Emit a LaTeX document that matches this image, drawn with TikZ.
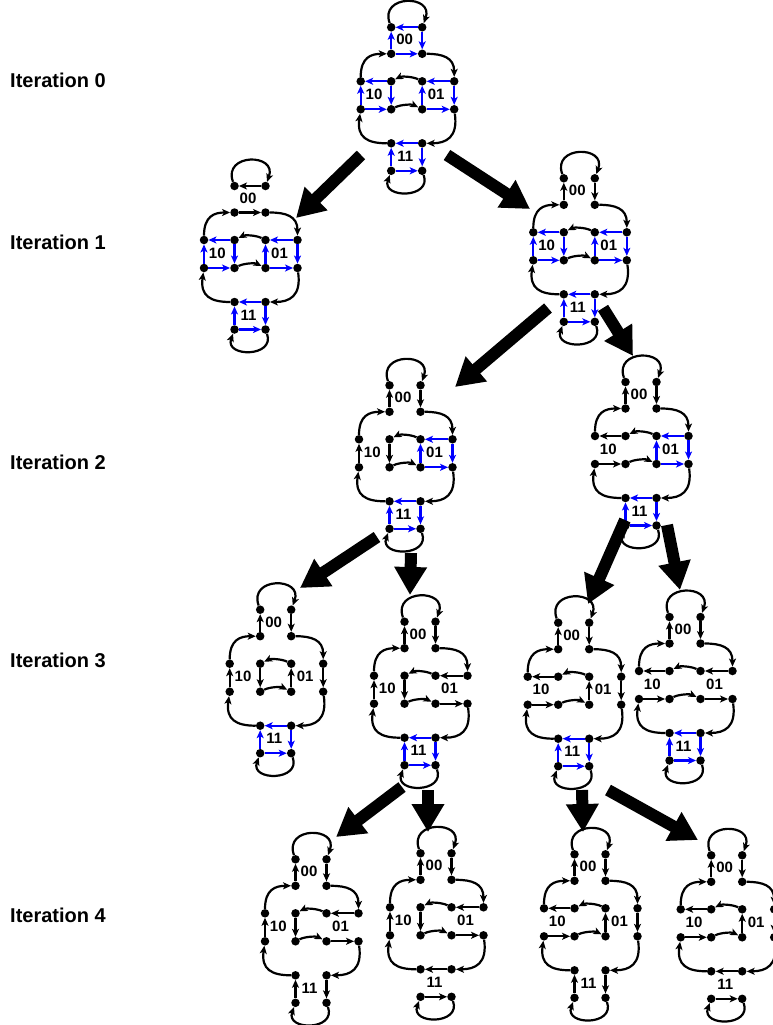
\documentclass[tikz,border=0pt]{standalone}
\usepackage{fontspec}
\setmainfont{Liberation Sans}
\usetikzlibrary{arrows.meta}
\definecolor{eblue}{RGB}{0,0,255}
\tikzset{
 dot/.style={circle,fill=black,inner sep=0pt,minimum size=8.5pt},
 bk/.style={draw=black,line width=2.2pt,-{Stealth[length=8pt,width=7pt,inset=2pt]}},
 bl/.style={draw=eblue,line width=2.2pt,-{Stealth[length=8pt,width=7pt,inset=2pt]}},
 lab/.style={font=\bfseries\fontsize{15}{16}\selectfont,inner sep=0pt},
 itlab/.style={font=\bfseries\fontsize{20}{22}\selectfont,anchor=west,inner sep=0pt},
 bigarrow/.style={line width=12pt,-{Triangle[length=28pt,width=31pt]}},
}
\newcommand\sqB[4]{\draw[bl] (#2)--(#1); \draw[bl] (#3)--(#1); \draw[bl] (#3)--(#4); \draw[bl] (#2)--(#4);}
\newcommand\sqV[4]{\draw[bk] (#3)--(#1); \draw[bk] (#2)--(#4);}
\newcommand\sqH[4]{\draw[bk] (#2)--(#1); \draw[bk] (#3)--(#4);}
\newcommand\mygraph[7]{%
\begin{scope}[shift={(#2,#3)}]
\node[dot] (#1A) at (30.5,0) {};
\node[dot] (#1B) at (61.5,0) {};
\node[dot] (#1C) at (30.5,26.5) {};
\node[dot] (#1D) at (61.5,26.5) {};
\node[dot] (#1E) at (0,54) {};
\node[dot] (#1G) at (30.5,54) {};
\node[dot] (#1I) at (61.5,54) {};
\node[dot] (#1K) at (93.5,54) {};
\node[dot] (#1F) at (0,82) {};
\node[dot] (#1H) at (30.5,82) {};
\node[dot] (#1J) at (61.5,82) {};
\node[dot] (#1L) at (93.5,82) {};
\node[dot] (#1M) at (30.5,116) {};
\node[dot] (#1N) at (61.5,116) {};
\node[dot] (#1O) at (30.5,143.5) {};
\node[dot] (#1P) at (61.5,143.5) {};
\node[lab] (#1l00) at (44,12.5) {00};
\node[lab] (#1l10) at (13.3,67) {10};
\node[lab] (#1l01) at (75.5,67) {01};
\node[lab] (#1l11) at (44.5,129) {11};
\end{scope}
\draw[bk] (#1A) .. controls +(-12,-33) and +(12,-33) .. (#1B);
\draw[bk] (#1P) .. controls +(10,28) and +(-10,28) .. (#1O);
\draw[bk] (#1E) .. controls +(0,-24) and +(-20,0) .. (#1C);
\draw[bk] (#1D) .. controls +(20,0) and +(0,-24) .. (#1K);
\draw[bk] (#1L) .. controls +(4,28) and +(24,0) .. (#1N);
\draw[bk] (#1M) .. controls +(-24,0) and +(-4,28) .. (#1F);
\draw[bk] (#1I) .. controls +(-10,-5) and +(10,-5) .. (#1G);
\draw[bk] (#1H) .. controls +(10,-5) and +(-10,-5) .. (#1J);
\csname sq#4\endcsname{#1A}{#1B}{#1C}{#1D}%
\csname sq#5\endcsname{#1E}{#1G}{#1F}{#1H}%
\csname sq#6\endcsname{#1I}{#1K}{#1J}{#1L}%
\csname sq#7\endcsname{#1M}{#1N}{#1O}{#1P}%
}
\begin{document}
\begin{tikzpicture}[x=1pt,y=-1pt]
\useasboundingbox (0,0) rectangle (772,1025);
\fill[white] (0,0) rectangle (772,1025);
\node[itlab] (it0) at (10,80) {Iteration 0};
\node[itlab] (it1) at (10,242) {Iteration 1};
\node[itlab] (it2) at (10,462) {Iteration 2};
\node[itlab] (it3) at (10,660) {Iteration 3};
\node[itlab] (it4) at (10,915) {Iteration 4};
\mygraph{g0}{360.7}{27.3}{B}{B}{B}{B}
\mygraph{ga}{204}{186}{H}{B}{B}{B}
\mygraph{gb}{533.3}{178.3}{V}{B}{B}{B}
\mygraph{gc}{359}{385.3}{V}{V}{B}{B}
\mygraph{gd}{595}{382}{V}{H}{B}{B}
\mygraph{ge}{229.7}{609.7}{V}{V}{V}{B}
\mygraph{gf}{374}{621.7}{V}{V}{H}{B}
\mygraph{gg}{527.7}{622.7}{V}{H}{V}{B}
\mygraph{gh}{639}{617}{V}{H}{H}{B}
\mygraph{gi}{265}{859.3}{V}{V}{H}{V}
\mygraph{gj}{390}{853.3}{V}{V}{H}{H}
\mygraph{gk}{544}{854.3}{V}{H}{V}{V}
\mygraph{gl}{680.7}{855.3}{V}{H}{V}{H}
% big arrows
\coordinate (t1) at (361,155); \coordinate (h1) at (296,218);
\coordinate (t2) at (447,155); \coordinate (h2) at (530,209);
\coordinate (t3) at (548,308); \coordinate (h3) at (455,387);
\coordinate (t4) at (603,308); \coordinate (h4) at (633,356);
\coordinate (t5) at (377,537); \coordinate (h5) at (300,588);
\coordinate (t6) at (411,553); \coordinate (h6) at (410,595);
\coordinate (t7) at (625,520); \coordinate (h7) at (588,604);
\coordinate (t8) at (667,525); \coordinate (h8) at (680,590);
\coordinate (t9) at (402,787); \coordinate (h9) at (336,837);
\coordinate (t10) at (428,790); \coordinate (h10) at (428,832);
\coordinate (t11) at (582,790); \coordinate (h11) at (583,832);
\coordinate (t12) at (608,790); \coordinate (h12) at (698,840);
\foreach \i in {1,...,12}{\draw[bigarrow] (t\i) -- (h\i);}
\end{tikzpicture}
\end{document}
